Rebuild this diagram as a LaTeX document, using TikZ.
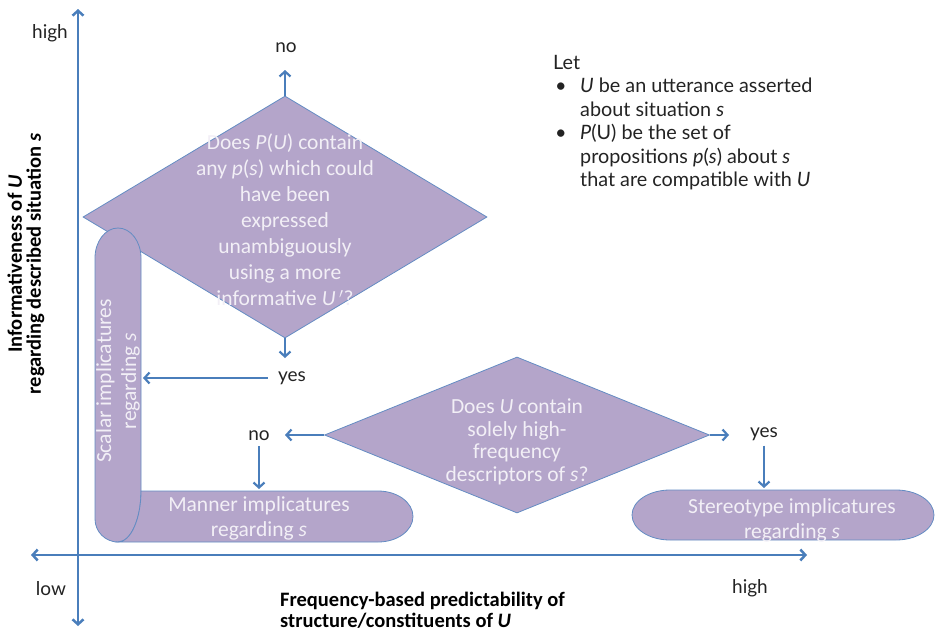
\documentclass[tikz,border=0pt]{standalone}
\usepackage{fontspec}
\setmainfont{Carlito}
\newfontfamily\lblfont{Lato}
\usetikzlibrary{shapes.geometric,arrows.meta}
\definecolor{axblue}{RGB}{74,126,187}
\definecolor{shfill}{RGB}{180,165,202}
\definecolor{shline}{RGB}{100,140,195}
\definecolor{shtext}{RGB}{242,239,246}
\definecolor{lblcol}{RGB}{35,35,35}
\begin{document}
\begin{tikzpicture}[x=1pt,y=-1pt,
  arr/.style={draw=axblue, line width=2.2pt, -{Straight Barb[length=5pt,width=11pt]}},
  axisline/.style={draw=axblue, line width=2.5pt, {Straight Barb[length=5pt,width=11pt]}-{Straight Barb[length=5pt,width=11pt]}},
  fillshape/.style={fill=shfill, draw=shline, line width=0.8pt},
  stext/.style={text=shtext, font=\fontsize{21.5}{25}\selectfont, align=center, inner sep=0pt},
  lbl/.style={font=\lblfont\fontsize{19}{23}\selectfont, text=lblcol, inner sep=0pt},
  axlbl/.style={font=\bfseries\fontsize{20.5}{21}\selectfont, text=black, inner sep=0pt}]
\useasboundingbox (0,0) rectangle (935,632);

% axes
\coordinate (ytop) at (78,9);
\coordinate (ybot) at (78,626);
\coordinate (xleft) at (31,555);
\coordinate (xright) at (807,555);
\draw[axisline] (ybot) -- (ytop);
\draw[axisline] (xleft) -- (xright);

% axis labels
\node[lbl] (highy) at (50,33) {high};
\node[lbl] (lowx) at (51,589) {low};
\node[lbl] (highx) at (750,588) {high};
\node[axlbl, rotate=90, align=center, font=\bfseries\fontsize{20.5}{19}\selectfont] (ylab) at (26,264) {Informativeness of \emph{U}\\ regarding described situation \emph{s}};
\node[axlbl, anchor=west, align=left] (xlab) at (280,610) {Frequency-based predictability of\\ structure/constituents of \emph{U}};

% first decision
\node[fillshape, diamond, minimum width=404pt, minimum height=242pt, inner sep=0pt] (d1) at (285,217) {};
\node[stext, font=\fontsize{21.5}{26}\selectfont] (d1t) at (285,220) {Does \emph{P}(\emph{U}) contain\\ any \emph{p}(\emph{s}) which could\\ have been\\ expressed\\ unambiguously\\ using a more\\ informative \emph{U}\,$'$?};

% scalar capsule
\path[fillshape] (95,258) arc[start angle=180, end angle=0, x radius=23pt, y radius=30pt]
  -- (141,491) arc[start angle=0, end angle=-90, x radius=23pt, y radius=51pt]
  arc[start angle=-90, end angle=-180, x radius=23pt, y radius=23pt] -- cycle;
\node[stext, rotate=90] (sct) at (118,381) {Scalar implicatures\\ regarding \emph{s}};

% manner capsule
\path[fillshape] (118,542) arc[start angle=-90, end angle=0, x radius=23pt, y radius=51pt]
  -- (378,491) arc[start angle=90, end angle=-90, x radius=35pt, y radius=25.5pt] -- cycle;
\node[stext] (mnt) at (259,518) {Manner implicatures\\ regarding \emph{s}};

% second decision
\node[fillshape, diamond, minimum width=385pt, minimum height=156pt, inner sep=0pt] (d2) at (517,435) {};
\node[stext, font=\fontsize{21.5}{22.5}\selectfont] (d2t) at (517,442) {Does \emph{U} contain\\ solely high-\\ frequency\\ descriptors of \emph{s}?};

% stereotype capsule
\path[fillshape] (670,490) -- (896,490) arc[start angle=90, end angle=-90, x radius=38pt, y radius=25pt]
  -- (670,540) arc[start angle=270, end angle=90, x radius=38pt, y radius=25pt] -- cycle;
\node[stext] (stt) at (792,520) {Stereotype implicatures\\ regarding \emph{s}};

% labels of branches
\node[lbl] (no1) at (286,48) {no};
\node[lbl] (yes1) at (292,378) {yes};
\node[lbl] (no2) at (259,436) {no};
\node[lbl] (yes2) at (764,434) {yes};

% branch coordinates
\coordinate (no1tip) at (285,70);
\coordinate (yes1tip) at (285,358);
\coordinate (scR) at (143,378);
\coordinate (no2tip) at (285,435);
\coordinate (mnTop) at (259,489);
\coordinate (yes2tip) at (729,435);
\coordinate (stTop) at (764,488);

% connectors
\draw[arr] (d1.north) -- (no1tip);
\draw[arr] (d1.south) -- (yes1tip);
\draw[arr, shorten <=10pt] (yes1.west) -- (scR);
\draw[arr] (d2.west) -- (no2tip);
\draw[arr, shorten <=5pt] (no2.south) -- (mnTop);
\draw[arr] (d2.east) -- (yes2tip);
\draw[arr, shorten <=5pt] (yes2.south) -- (stTop);

% note
\node[lbl, anchor=north west, align=left, font=\lblfont\fontsize{19.8}{23.5}\selectfont] (note) at (553,55)
 {Let\\
  \hspace*{2pt}\makebox[25pt][l]{\textbullet}\emph{U} be an utterance asserted\\
  \hspace*{27pt}about situation \emph{s}\\
  \hspace*{2pt}\makebox[25pt][l]{\textbullet}\emph{P}(U) be the set of\\
  \hspace*{27pt}propositions \emph{p}(\emph{s}) about \emph{s}\\
  \hspace*{27pt}that are compatible with \emph{U}};
\end{tikzpicture}
\end{document}
